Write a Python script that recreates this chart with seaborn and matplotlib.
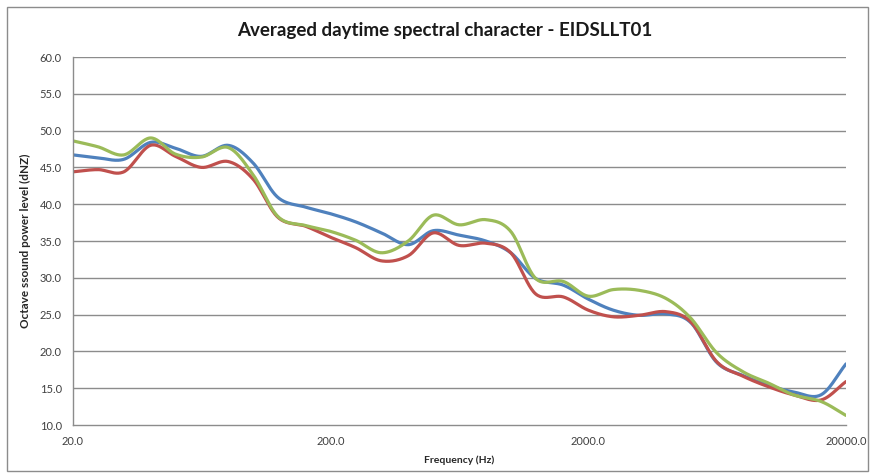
import numpy as np
import pandas as pd
import matplotlib
matplotlib.use("Agg")
import matplotlib.pyplot as plt
import seaborn as sns

# One-third octave band centre frequencies (Hz)
freq = [20, 25, 31.5, 40, 50, 63, 80, 100, 125, 160, 200, 250, 315, 400, 500,
        630, 800, 1000, 1250, 1600, 2000, 2500, 3150, 4000, 5000, 6300, 8000,
        10000, 12500, 16000, 20000]

# Averaged daytime levels for the three measurement series (dBZ)
series_a = [46.7, 46.3, 46.1, 48.4, 47.6, 46.5, 48.0, 45.6, 40.9, 39.6, 38.7,
            37.6, 36.1, 34.5, 36.4, 35.8, 35.0, 33.4, 29.9, 29.0, 27.1, 25.6,
            24.9, 25.1, 23.9, 18.5, 16.7, 15.4, 14.5, 14.1, 18.3]
series_b = [44.4, 44.7, 44.4, 48.0, 46.5, 45.0, 45.8, 43.4, 38.2, 37.0, 35.5,
            34.1, 32.3, 33.0, 36.1, 34.4, 34.7, 33.4, 27.8, 27.4, 25.6, 24.7,
            24.9, 25.4, 24.0, 18.6, 16.6, 15.2, 14.1, 13.4, 15.9]
series_c = [48.6, 47.8, 46.7, 49.0, 46.8, 46.4, 47.7, 44.0, 38.3, 37.1, 36.3,
            35.1, 33.4, 35.0, 38.5, 37.2, 37.9, 36.3, 29.9, 29.5, 27.5, 28.4,
            28.3, 27.2, 24.5, 19.8, 17.2, 15.7, 14.1, 13.2, 11.3]

series_names = ["Series 1", "Series 2", "Series 3"]
colors = ["#4F81BD", "#C0504D", "#9BBB59"]

y_ticks = [10, 15, 20, 25, 30, 35, 40, 45, 50, 55, 60]
x_ticks = [20, 200, 2000, 20000]


def smooth(xs, ys, n=24):
    """Catmull-Rom spline through the points, in log-frequency space."""
    lx = np.log10(np.asarray(xs, float))
    ly = np.asarray(ys, float)
    px = np.concatenate([[2 * lx[0] - lx[1]], lx, [2 * lx[-1] - lx[-2]]])
    py = np.concatenate([[2 * ly[0] - ly[1]], ly, [2 * ly[-1] - ly[-2]]])
    out_x, out_y = [], []
    t = np.linspace(0, 1, n, endpoint=False)
    for i in range(1, len(px) - 2):
        for arr, out in ((px, out_x), (py, out_y)):
            p0, p1, p2, p3 = arr[i - 1], arr[i], arr[i + 1], arr[i + 2]
            out.extend(0.5 * ((2 * p1) + (-p0 + p2) * t
                              + (2 * p0 - 5 * p1 + 4 * p2 - p3) * t ** 2
                              + (-p0 + 3 * p1 - 3 * p2 + p3) * t ** 3))
    out_x.append(lx[-1])
    out_y.append(ly[-1])
    return 10 ** np.array(out_x), np.array(out_y)


frames = []
for name, vals in zip(series_names, [series_a, series_b, series_c]):
    sx, sy = smooth(freq, vals)
    frames.append(pd.DataFrame({"freq": sx, "level": sy, "series": name,
                                "order": np.arange(len(sx))}))
df = pd.concat(frames, ignore_index=True)

sns.set_theme(style="white")
plt.rcParams["font.family"] = ["Lato", "DejaVu Sans"]

fig = plt.figure(figsize=(8.76, 4.74), dpi=100)
ax = fig.add_axes([73 / 876, 1 - 425 / 474, (846 - 73) / 876, (425 - 57) / 474])

# horizontal gridlines behind the curves
for yv in y_ticks[1:]:
    ax.axhline(yv, color="#8c8c8c", lw=1.0, zorder=0)

sns.lineplot(data=df, x="freq", y="level", hue="series", units="series",
             estimator=None, sort=False, palette=colors, linewidth=2.3,
             legend=False, ax=ax)

ax.set_xscale("log")
ax.set_xlim(20, 20000)
ax.set_ylim(10, 60)
ax.set_xticks(x_ticks)
ax.set_xticklabels([f"{v:.1f}" for v in x_ticks])
ax.xaxis.set_minor_locator(matplotlib.ticker.NullLocator())
ax.set_yticks(y_ticks)
ax.set_yticklabels([f"{v:.1f}" for v in y_ticks])
ax.tick_params(axis="both", labelsize=8, colors="#404040", length=0, pad=8)

for side in ("top", "right"):
    ax.spines[side].set_visible(False)
for side in ("left", "bottom"):
    ax.spines[side].set_color("#8c8c8c")
    ax.spines[side].set_linewidth(1.0)

ax.set_xlabel("Frequency (Hz)", fontsize=7.5, fontweight="bold", labelpad=6)
ax.set_ylabel("Octave ssound power level (dNZ)", fontsize=8.5,
              fontweight="bold", labelpad=6)

fig.text(0.508, 0.935, "Averaged daytime spectral character - EIDSLLT01",
         ha="center", va="center", fontsize=13.5, fontweight="bold",
         color="#1a1a1a")

# chart-area border
fig.patches.append(matplotlib.patches.Rectangle(
    (7 / 876, 3 / 474), 861 / 876, 464 / 474, transform=fig.transFigure,
    fill=False, edgecolor="#8c8c8c", lw=1.0))

fig.savefig("out.png", dpi=100, facecolor="white")
